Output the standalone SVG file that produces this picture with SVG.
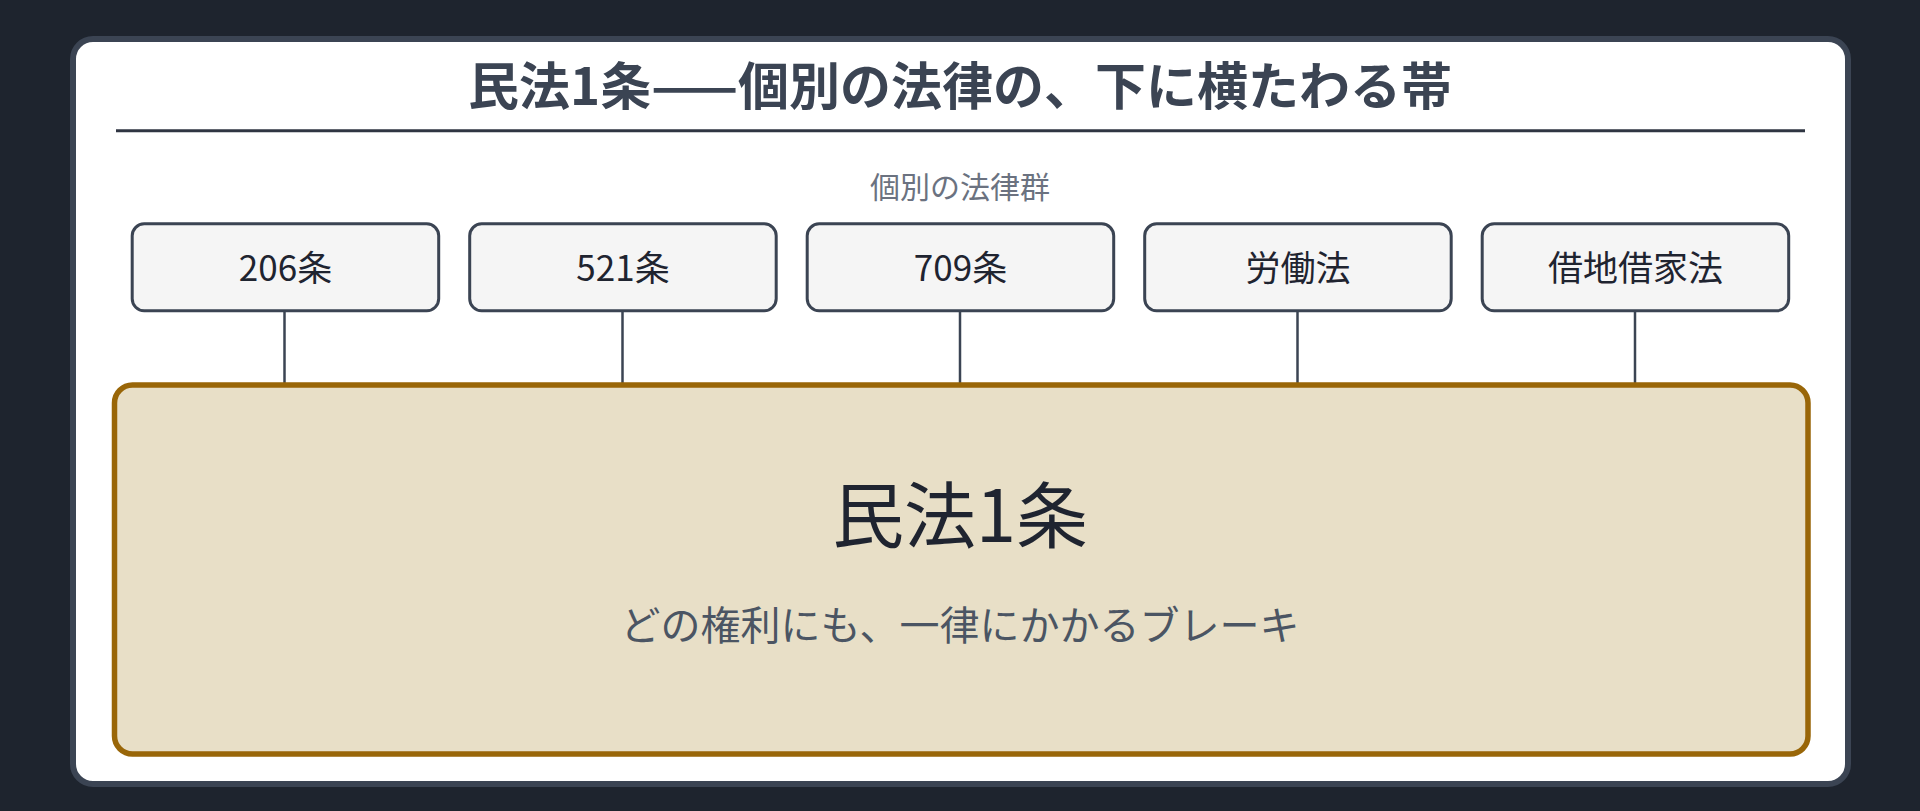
<svg xmlns="http://www.w3.org/2000/svg" width="1920" height="811" viewBox="0 0 1920 811">
<style>
  text { font-family: "Noto Sans CJK JP", "Noto Sans", sans-serif; text-anchor: middle; }
  .title { font-size: 51px; font-weight: 700; fill: #3b4453; }
  .group { font-size: 30px; fill: #6b7280; }
  .box { fill: #f5f5f5; stroke: #3b4453; stroke-width: 3; }
  .boxtxt { font-size: 35px; fill: #1f2430; }
  .conn { stroke: #3b4453; stroke-width: 2.5; fill: none; }
  .band { fill: #e8dfc7; stroke: #996608; stroke-width: 5.5; }
  .bigtxt { font-size: 72px; fill: #1f2430; }
  .subtxt { font-size: 40px; fill: #4b5563; }
</style>
<rect x="0" y="0" width="1920" height="811" fill="#1e242e"/>
<g id="card">
  <rect x="73" y="39" width="1775" height="745" rx="20" fill="#ffffff" stroke="#3b4453" stroke-width="6"/>
  <text class="title" x="960" y="105">民法1条——個別の法律の、下に横たわる帯</text>
  <line x1="116" y1="130.7" x2="1805" y2="130.7" stroke="#2f3542" stroke-width="3"/>
  <text class="group" x="960" y="198">個別の法律群</text>
</g>
<g id="connectors">
  <line class="conn" x1="284.5" y1="312" x2="284.5" y2="384"/>
  <line class="conn" x1="622.5" y1="312" x2="622.5" y2="384"/>
  <line class="conn" x1="960" y1="312" x2="960" y2="384"/>
  <line class="conn" x1="1297.5" y1="312" x2="1297.5" y2="384"/>
  <line class="conn" x1="1635" y1="312" x2="1635" y2="384"/>
</g>
<g id="node-206">
  <rect class="box" x="132.2" y="223.8" width="306.5" height="87" rx="12"/>
  <text class="boxtxt" x="285.5" y="281">206条</text>
</g>
<g id="node-521">
  <rect class="box" x="469.7" y="223.8" width="306.5" height="87" rx="12"/>
  <text class="boxtxt" x="623" y="281">521条</text>
</g>
<g id="node-709">
  <rect class="box" x="807.2" y="223.8" width="306.5" height="87" rx="12"/>
  <text class="boxtxt" x="960.5" y="281">709条</text>
</g>
<g id="node-labor">
  <rect class="box" x="1144.7" y="223.8" width="306.5" height="87" rx="12"/>
  <text class="boxtxt" x="1298" y="281">労働法</text>
</g>
<g id="node-lease">
  <rect class="box" x="1482.2" y="223.8" width="306.5" height="87" rx="12"/>
  <text class="boxtxt" x="1635.5" y="281">借地借家法</text>
</g>
<g id="band">
  <rect class="band" x="114.5" y="385" width="1693.5" height="369" rx="18"/>
  <text class="bigtxt" x="960" y="542">民法1条</text>
  <text class="subtxt" x="960" y="640">どの権利にも、一律にかかるブレーキ</text>
</g>
</svg>
